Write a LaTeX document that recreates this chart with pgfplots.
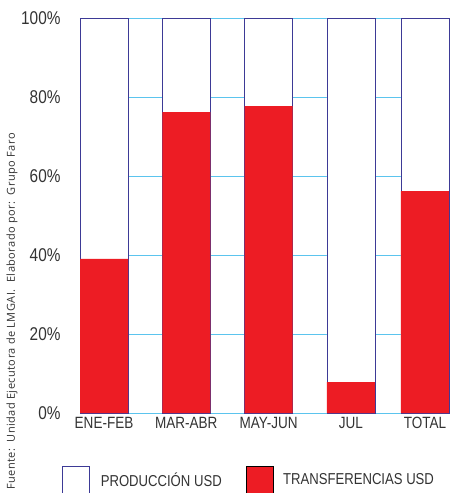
\documentclass[border=0pt]{standalone}
\usepackage{fontspec}
\setmainfont{Liberation Sans}[FakeStretch=0.83]
\newfontfamily\notefont{Open Sans}[LetterSpace=4]
\usepackage{pgfplots}
\pgfplotsset{compat=1.18}
\definecolor{barred}{HTML}{ED1C24}
\definecolor{barblue}{HTML}{3D3A96}
\definecolor{gridblue}{HTML}{5BC4EE}
\definecolor{txt}{HTML}{333333}
\begin{document}
\begin{tikzpicture}
\begin{axis}[
  scale only axis,
  width=370pt, height=395pt,
  xmin=-0.292, xmax=4.204,
  ymin=0, ymax=100,
  xtick={0,1,2,3,3.9},
  xticklabels={ENE-FEB,MAR-ABR,MAY-JUN,JUL,TOTAL},
  ytick={0,20,40,60,80,100},
  yticklabel={\pgfmathprintnumber{\tick}\%},
  /pgf/number format/assume math mode=true,
  axis line style={draw=none},
  major tick length=0pt,
  ymajorgrids,
  grid style={gridblue, line width=0.8pt},
  x tick label style={font=\fontsize{16.3}{18}\selectfont, text=txt, yshift=-1pt},
  y tick label style={font=\fontsize{18.5}{20}\selectfont, text=txt, xshift=-16pt},
  clip=false,
  legend style={draw=none, inner sep=0pt, outer sep=0pt,
    nodes={inner sep=0pt},
    at={(rel axis cs:0,0)}, anchor=west,
    xshift=-18pt, yshift=-67pt, legend columns=2,
    font=\fontsize{15.8}{18}\selectfont, text=txt,
    /tikz/column 1/.style={column sep=11pt},
    /tikz/column 2/.style={column sep=24pt},
    /tikz/column 3/.style={column sep=10pt}},
  legend image code/.code={\draw[#1] (0pt,-13.5pt) rectangle (27pt,13.5pt);},
]
% full bars (100%)
\addplot[ybar, bar width=48pt, bar shift=0pt, fill=white, draw=barblue, line width=0.8pt, forget plot]
  coordinates {(0,100)(1,100)(2,100)(3,100)(3.9,100)};
% transferencias
\addplot[ybar, bar width=48pt, bar shift=0pt, fill=barred, draw=none, forget plot]
  coordinates {(0,39.0)(1,76.2)(2,77.7)(3,7.8)(3.9,56.2)};

\addlegendimage{fill=white, draw=barblue, line width=0.8pt}
\addlegendentry{PRODUCCIÓN USD}
\addlegendimage{fill=barred, draw=none}
\addlegendentry{TRANSFERENCIAS USD}

\node[rotate=90, anchor=west, inner sep=0pt, text=txt,
      font=\fontsize{11}{13}\selectfont\notefont]
  at ([xshift=-68pt, yshift=-77pt]rel axis cs:0,0)
  {Fuente:\ \ Unidad Ejecutora de LMGAI.\ \ Elaborado por:\ \ Grupo Faro};
\end{axis}
\pgfresetboundingbox
\path (-80pt,-80pt) rectangle (370pt,413pt);
\end{tikzpicture}
\end{document}
